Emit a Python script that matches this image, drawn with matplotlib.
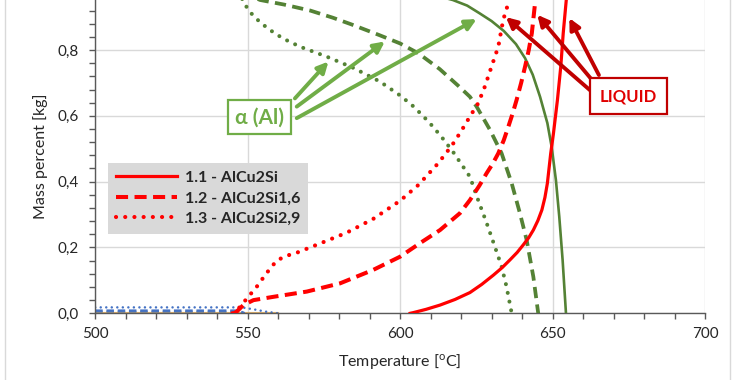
import matplotlib
matplotlib.use("Agg")
import matplotlib.pyplot as plt
from matplotlib.ticker import MultipleLocator, FuncFormatter
from matplotlib.lines import Line2D

plt.rcParams['font.family'] = ['Lato', 'DejaVu Sans']
plt.rcParams['mathtext.fontset'] = 'custom'
plt.rcParams['mathtext.rm'] = 'Lato'

# ---- data (temperature in C, mass fraction) ----
liq_11_t = [603.3, 604.3, 608.5, 613.1, 618.0, 622.9, 626.8, 630.6, 633.5, 636.0, 638.4, 640.4, 642.2,
            643.7, 645.2, 646.5, 647.5, 648.3, 649.4, 650.3, 651.6, 652.7, 653.5, 654.5, 654.8]
liq_11_v = [0.0, 0.002, 0.012, 0.025, 0.042, 0.063, 0.088, 0.116, 0.139, 0.162, 0.185, 0.208, 0.230,
            0.253, 0.282, 0.314, 0.352, 0.395, 0.486, 0.547, 0.648, 0.750, 0.851, 0.952, 1.0]

liq_12_t = [545.5, 546.4, 548.6, 551.9, 558.4, 569.4, 580.3, 591.2, 600.0, 606.5, 613.1, 619.6, 622.9,
            626.0, 628.4, 630.4, 632.2, 634.0, 635.5, 636.9, 638.2, 639.7, 641.0, 642.2, 643.2, 644.2, 644.6]
liq_12_v = [0.0, 0.005, 0.025, 0.040, 0.050, 0.066, 0.091, 0.132, 0.172, 0.213, 0.253, 0.304, 0.344,
            0.388, 0.426, 0.455, 0.486, 0.526, 0.567, 0.607, 0.648, 0.700, 0.750, 0.800, 0.851, 0.937, 1.0]

liq_13_t = [545.0, 546.5, 547.5, 550.2, 553.0, 556.2, 559.5, 562.5, 566.1, 573.7, 582.5, 591.2, 600.0,
            606.0, 612.5, 617.0, 620.0, 622.9, 625.6, 627.8, 630.0, 632.2, 633.8, 635.8, 636.4]
liq_13_v = [0.0, 0.008, 0.02, 0.050, 0.081, 0.122, 0.160, 0.174, 0.184, 0.212, 0.245, 0.287, 0.342,
            0.390, 0.456, 0.510, 0.553, 0.598, 0.638, 0.689, 0.750, 0.810, 0.891, 0.952, 1.0]

al_11_t = [600.0, 610.0, 617.3, 622.0, 626.0, 630.0, 634.0, 638.0, 641.0, 643.5, 645.9, 648.3, 649.7,
           651.1, 652.2, 653.3, 654.4]
al_11_v = [0.99, 0.97, 0.952, 0.935, 0.912, 0.888, 0.858, 0.818, 0.775, 0.725, 0.658, 0.578, 0.506,
           0.405, 0.294, 0.162, 0.0]

al_12_t = [547.0, 550.0, 554.1, 562.0, 570.5, 578.0, 584.0, 593.0, 600.0, 606.0, 613.0, 619.0, 622.9,
           625.1, 629.5, 633.3, 636.6, 639.3, 641.5, 643.7, 645.3]
al_12_v = [0.985, 0.968, 0.952, 0.938, 0.920, 0.898, 0.878, 0.846, 0.820, 0.790, 0.742, 0.692, 0.658,
           0.628, 0.557, 0.486, 0.395, 0.304, 0.223, 0.111, 0.0]

al_13_t = [546.5, 548.5, 550.8, 554.0, 557.3, 561.6, 567.2, 575.9, 584.6, 593.4, 600.0, 604.2, 607.5,
           610.8, 614.1, 617.4, 619.6, 622.9, 625.6, 628.4, 631.1, 633.3, 634.9, 636.6]
al_13_v = [1.0, 0.947, 0.915, 0.885, 0.861, 0.835, 0.810, 0.780, 0.746, 0.704, 0.662, 0.630, 0.600,
           0.567, 0.530, 0.490, 0.460, 0.415, 0.344, 0.274, 0.202, 0.142, 0.081, 0.0]

# minor phases near zero
low_dot_t = [500, 548, 552, 556, 560]
low_dot_v = [0.018, 0.018, 0.012, 0.005, 0.0]
low_dash_t = [500, 547, 549]
low_dash_v = [0.008, 0.008, 0.0]
low_gray_t = [500, 547, 549]
low_gray_v = [0.004, 0.004, 0.0]
low_tan_t = [500, 560]
low_tan_v = [0.0, 0.0]

legend_labels = ["1.1 - AlCu2Si", "1.2 - AlCu2Si1,6", "1.3 - AlCu2Si2,9"]

# annotation anchors (start, tip) in data coords
al_arrows = [((565.5, 0.653), (576.5, 0.765)),
             ((566.1, 0.628), (595.0, 0.826)),
             ((566.1, 0.593), (625.1, 0.894))]
liq_arrows = [((663.4, 0.669), (634.7, 0.900)),
              ((663.4, 0.704), (645.0, 0.907)),
              ((665.2, 0.724), (655.5, 0.897))]

RED = '#FF0000'
GREEN = '#548235'
ARROW_GREEN = '#70AD47'
DARK_RED = '#C00000'

fig = plt.figure(figsize=(7.35, 3.8), dpi=100)
ax = fig.add_axes([95.2 / 735, 1 - 313.3 / 380, (705 - 95.2) / 735, 313.3 / 380])

# chart area border (Excel style), left and right edges
fig.add_artist(Line2D([5 / 735, 5 / 735], [0, 1], color='#D9D9D9', lw=1.0))
fig.add_artist(Line2D([730 / 735, 730 / 735], [0, 1], color='#D9D9D9', lw=1.0))

dot = (0, (0.01, 2.2))

# near-zero phases
ax.plot(low_tan_t, low_tan_v, color='#E3B26B', lw=1.5, zorder=2)
ax.plot(low_gray_t, low_gray_v, color='#8C8C8C', lw=1.8, ls=(0, (3, 1.5)), zorder=2)
ax.plot(low_dash_t, low_dash_v, color='#4472C4', lw=1.8, ls=(0, (3, 1.5)), zorder=2)
ax.plot(low_dot_t, low_dot_v, color='#4472C4', lw=1.8, ls=dot, dash_capstyle='round', zorder=2)

# alpha (Al) curves
ax.plot(al_11_t, al_11_v, color=GREEN, lw=1.9, zorder=3)
ax.plot(al_12_t, al_12_v, color=GREEN, lw=2.7, ls=(0, (3.0, 1.7)), zorder=3)
ax.plot(al_13_t, al_13_v, color=GREEN, lw=2.9, ls=dot, dash_capstyle='round', zorder=3)

# liquid curves
l1, = ax.plot(liq_11_t, liq_11_v, color=RED, lw=2.3, zorder=4, label=legend_labels[0])
l2, = ax.plot(liq_12_t, liq_12_v, color=RED, lw=2.9, ls=(0, (3.0, 1.6)), zorder=4, label=legend_labels[1])
l3, = ax.plot(liq_13_t, liq_13_v, color=RED, lw=3.0, ls=dot, dash_capstyle='round', zorder=4,
              label=legend_labels[2])

ax.set_xlim(500, 700)
ax.set_ylim(0, 0.952)

ax.xaxis.set_major_locator(MultipleLocator(50))
ax.xaxis.set_minor_locator(MultipleLocator(10))
ax.yaxis.set_major_locator(MultipleLocator(0.2))
ax.yaxis.set_minor_locator(MultipleLocator(0.04))
ax.yaxis.set_major_formatter(FuncFormatter(lambda v, p: f"{v:.1f}".replace('.', ',')))

ax.grid(True, which='major', color='#D9D9D9', lw=1.0)
ax.set_axisbelow(True)
for s in ['top', 'right']:
    ax.spines[s].set_visible(False)
for s in ['left', 'bottom']:
    ax.spines[s].set_color('#595959')
    ax.spines[s].set_linewidth(1.0)

ax.tick_params(which='both', direction='out', length=4, width=1.0, color='#595959',
               labelsize=11, labelcolor='#262626')
ax.tick_params(axis='x', which='major', pad=6)
ax.tick_params(axis='y', which='major', pad=8)

ax.set_xlabel(r"Temperature [$^{\mathrm{o}}$C]", fontsize=11.5, color='#262626', labelpad=8)
ax.set_ylabel("Mass percent [kg]", fontsize=11.5, color='#262626', labelpad=7)

leg = ax.legend(handles=[l1, l2, l3], loc='upper left', bbox_to_anchor=(0.0215, 0.481),
                frameon=True, fancybox=False, facecolor='#D9D9D9', edgecolor='none',
                framealpha=1.0, fontsize=11.5, handlelength=3.8, handletextpad=0.5,
                labelspacing=0.4, borderpad=0.5, borderaxespad=0.0)
for t in leg.get_texts():
    t.set_fontweight('bold')
    t.set_color('#262626')

# alpha (Al) label with arrows
for start, tip in al_arrows:
    ax.annotate('', xy=tip, xytext=start,
                arrowprops=dict(arrowstyle='-|>', color=ARROW_GREEN, lw=2.8,
                                mutation_scale=16, shrinkA=0, shrinkB=0), zorder=6)
ax.text(553.9, 0.596, "α (Al)", fontsize=15, fontweight='bold', color=ARROW_GREEN,
        ha='center', va='center', zorder=7,
        bbox=dict(boxstyle='square,pad=0.32', facecolor='white', edgecolor=ARROW_GREEN, lw=1.6))

# LIQUID label with arrows
for start, tip in liq_arrows:
    ax.annotate('', xy=tip, xytext=start,
                arrowprops=dict(arrowstyle='-|>', color=DARK_RED, lw=2.8,
                                mutation_scale=16, shrinkA=0, shrinkB=0), zorder=6)
ax.text(674.9, 0.660, "LIQUID", fontsize=12, fontweight='bold', color='#E00000',
        ha='center', va='center', zorder=7,
        bbox=dict(boxstyle='square,pad=0.6', facecolor='white', edgecolor=DARK_RED, lw=1.6))

fig.savefig("out.png", dpi=100)
